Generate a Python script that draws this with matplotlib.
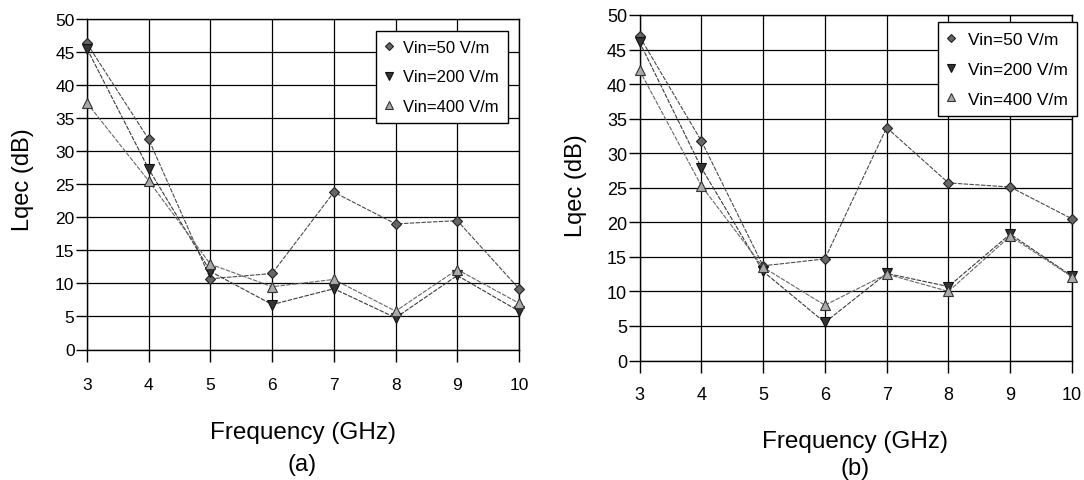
import matplotlib
matplotlib.use("Agg")
import matplotlib.pyplot as plt
from matplotlib.lines import Line2D

plt.rcParams['font.family'] = ['Liberation Sans', 'DejaVu Sans']

freq = [3, 4, 5, 6, 7, 8, 9, 10]
labels = ["Vin=50 V/m", "Vin=200 V/m", "Vin=400 V/m"]

a_50 = [46.3, 31.8, 10.7, 11.5, 23.8, 19.0, 19.5, 9.2]
a_200 = [45.5, 27.3, 11.8, 6.8, 9.2, 4.8, 11.2, 5.8]
a_400 = [37.3, 25.5, 12.9, 9.5, 10.6, 5.8, 12.1, 7.0]

b_50 = [46.9, 31.8, 13.7, 14.7, 33.7, 25.7, 25.1, 20.5]
b_200 = [46.1, 27.9, 12.9, 5.5, 12.6, 10.7, 18.3, 12.2]
b_400 = [42.0, 25.3, 13.5, 8.0, 12.5, 10.0, 18.0, 12.1]

W, H = 1084, 481
fig = plt.figure(figsize=(W / 100, H / 100), dpi=100)

styles = [
    dict(marker='D', ms=5.5, mfc='#666666', mec='#222222', color='#4a4a4a'),
    dict(marker='v', ms=7, mfc='#333333', mec='#111111', color='#3a3a3a'),
    dict(marker='^', ms=7, mfc='#aaaaaa', mec='#333333', color='#666666'),
]


def px_axes(x0, x1, ytop, ybot):
    return fig.add_axes([x0 / W, 1 - ybot / H, (x1 - x0) / W, (ybot - ytop) / H])


def draw(ax, series, tick_fs, xpad):
    for vals, st in zip(series, styles):
        ax.plot(freq, vals, lw=0.8, ls=(0, (4, 1.2)), color=st['color'],
                marker=st['marker'], ms=st['ms'], mfc=st['mfc'], mec=st['mec'],
                mew=0.8, clip_on=False, zorder=3)
    ax.set_xlim(3, 10)
    ax.set_ylim(0, 50)
    ax.set_xticks(freq)
    ax.set_yticks(range(0, 51, 5))
    ax.grid(True, color='black', lw=0.9)
    ax.set_axisbelow(True)
    for s in ax.spines.values():
        s.set_color('black')
        s.set_linewidth(1.0)
    ax.tick_params(axis='x', direction='out', length=8.5, width=1, pad=xpad,
                   labelsize=tick_fs)
    ax.tick_params(axis='y', direction='out', length=8, width=1, pad=1,
                   labelsize=tick_fs)


def legend(ax, x, y, fs, hl, htp):
    handles = [Line2D([], [], ls='none', marker=st['marker'], ms=st['ms'] - 1,
                      mfc=st['mfc'], mec=st['mec'], mew=0.8) for st in styles]
    leg = ax.legend(handles, labels, loc='upper left',
                    bbox_to_anchor=(x / W, 1 - y / H), bbox_transform=fig.transFigure,
                    borderaxespad=0, fontsize=fs, frameon=True, fancybox=False,
                    framealpha=1, edgecolor='black', borderpad=0.55, labelspacing=0.85,
                    handlelength=hl, handletextpad=htp)
    leg.get_frame().set_linewidth(1.0)
    leg.set_zorder(5)


ax1 = px_axes(87, 519, 20, 350.5)
draw(ax1, [a_50, a_200, a_400], 12.5, 11)
legend(ax1, 376, 32, 12, 0.45, 0.62)
fig.text(303 / W, 1 - 433 / H, "Frequency (GHz)", ha='center', va='center', fontsize=17.5)
fig.text(302 / W, 1 - 465 / H, "(a)", ha='center', va='center', fontsize=17)
fig.text(23 / W, 1 - 180 / H, "Lqec (dB)", ha='center', va='center', rotation=90, fontsize=17)

ax2 = px_axes(639.5, 1072, 16, 361.5)
draw(ax2, [b_50, b_200, b_400], 13, 10)
legend(ax2, 938, 23, 12.5, 0.45, 0.7)
fig.text(855 / W, 1 - 442 / H, "Frequency (GHz)", ha='center', va='center', fontsize=17.5)
fig.text(855 / W, 1 - 469 / H, "(b)", ha='center', va='center', fontsize=17)
fig.text(576 / W, 1 - 186 / H, "Lqec (dB)", ha='center', va='center', rotation=90, fontsize=17)

fig.savefig("out.png", dpi=100, facecolor='white')
